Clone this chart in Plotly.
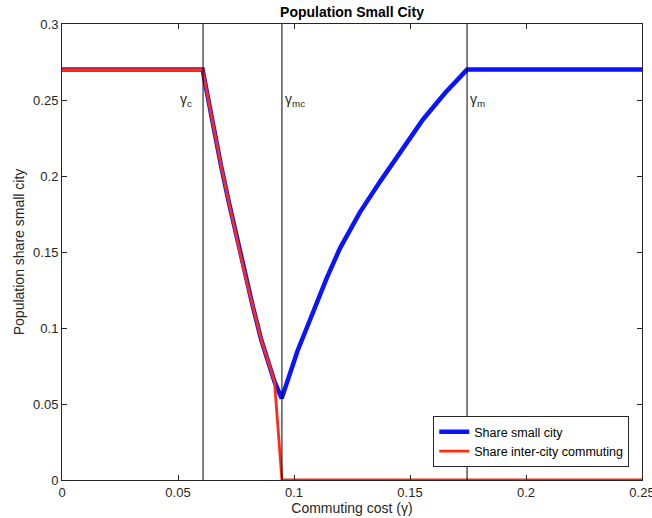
import plotly.graph_objects as go

# Data
x_blue = [0.0, 0.0606, 0.0631, 0.0655, 0.0685, 0.0717, 0.0750, 0.0784, 0.0821, 0.0859, 0.0888,
          0.0916, 0.0947, 0.1015, 0.1083, 0.1141, 0.1198, 0.1284, 0.1371, 0.1461, 0.1556,
          0.1651, 0.1746, 0.25]
y_blue = [0.27, 0.27, 0.2500, 0.2303, 0.2072, 0.1842, 0.1612, 0.1382, 0.1151, 0.0921, 0.0783,
          0.0647, 0.0537, 0.0849, 0.1107, 0.1328, 0.1524, 0.1761, 0.1963, 0.2163, 0.2372,
          0.2546, 0.27, 0.27]

x_red = [0.0, 0.0606, 0.0631, 0.0655, 0.0685, 0.0717, 0.0750, 0.0784, 0.0821, 0.0859, 0.0888,
         0.0916, 0.0948, 0.25]
y_red = [0.27, 0.27, 0.2500, 0.2303, 0.2072, 0.1842, 0.1612, 0.1382, 0.1151, 0.0921, 0.0783,
         0.0647, 0.0, 0.0]

thresholds = [0.0608, 0.0948, 0.1746]
threshold_labels = ["γ<sub>c</sub>", "γ<sub>mc</sub>", "γ<sub>m</sub>"]
threshold_label_side = ["left", "right", "right"]
threshold_label_y = 0.25

x_ticks = [0, 0.05, 0.1, 0.15, 0.2, 0.25]
x_ticklabels = ["0", "0.05", "0.1", "0.15", "0.2", "0.25"]
y_ticks = [0, 0.05, 0.1, 0.15, 0.2, 0.25, 0.3]
y_ticklabels = ["0", "0.05", "0.1", "0.15", "0.2", "0.25", "0.3"]

FONT = "Liberation Sans, Arial, Helvetica, sans-serif"
DARK = "#262626"

fig = go.Figure()
fig.add_trace(go.Scatter(x=x_blue, y=y_blue, mode="lines", name="Share small city",
                         line=dict(color="#0a14ff", width=4.5)))
fig.add_trace(go.Scatter(x=x_red, y=y_red, mode="lines", name="Share inter-city commuting",
                         line=dict(color="#ff2a14", width=2.8)))

for xv, lab, side in zip(thresholds, threshold_labels, threshold_label_side):
    fig.add_shape(type="line", x0=xv, x1=xv, y0=0, y1=1, xref="x", yref="paper",
                  line=dict(color="black", width=1))
    fig.add_annotation(x=xv, y=threshold_label_y, xref="x", yref="y", text=lab, showarrow=False,
                       xanchor="right" if side == "left" else "left",
                       xshift=-9 if side == "left" else 1, yanchor="middle",
                       font=dict(family=FONT, size=14, color=DARK))

fig.update_layout(
    width=652, height=518,
    margin=dict(l=62, r=10, t=24, b=38),
    paper_bgcolor="white", plot_bgcolor="white",
    font=dict(family=FONT, size=13, color=DARK),
    title=dict(text="<b>Population Small City</b>", x=0.5, xref="paper", xanchor="center",
               y=1 - 12 / 518, yanchor="middle", font=dict(size=14, color="black")),
    legend=dict(x=0.978, y=0.028, xanchor="right", yanchor="bottom",
                bgcolor="white", bordercolor=DARK, borderwidth=1,
                font=dict(size=12.5, color="black"), tracegroupgap=0),
    showlegend=True,
)
fig.update_xaxes(range=[0, 0.25], tickvals=x_ticks, ticktext=x_ticklabels, automargin=False,
                 ticklabeloverflow="allow",
                 ticks="inside", ticklen=5, tickcolor=DARK, showline=True, linecolor=DARK,
                 linewidth=1, mirror="ticks", showgrid=False, zeroline=False,
                 title=dict(text="Commuting cost (γ)", standoff=2, font=dict(size=14)))
fig.update_yaxes(range=[0, 0.3], tickvals=y_ticks, ticktext=y_ticklabels, automargin=False,
                 ticklabeloverflow="allow",
                 ticks="inside", ticklen=5, tickcolor=DARK, showline=True, linecolor=DARK,
                 linewidth=1, mirror="ticks", showgrid=False, zeroline=False,
                 title=dict(text="Population share small city", standoff=5, font=dict(size=14)))

fig.write_html("out.html", config={"displayModeBar": False},
               post_script="document.body.style.margin='0px';")
